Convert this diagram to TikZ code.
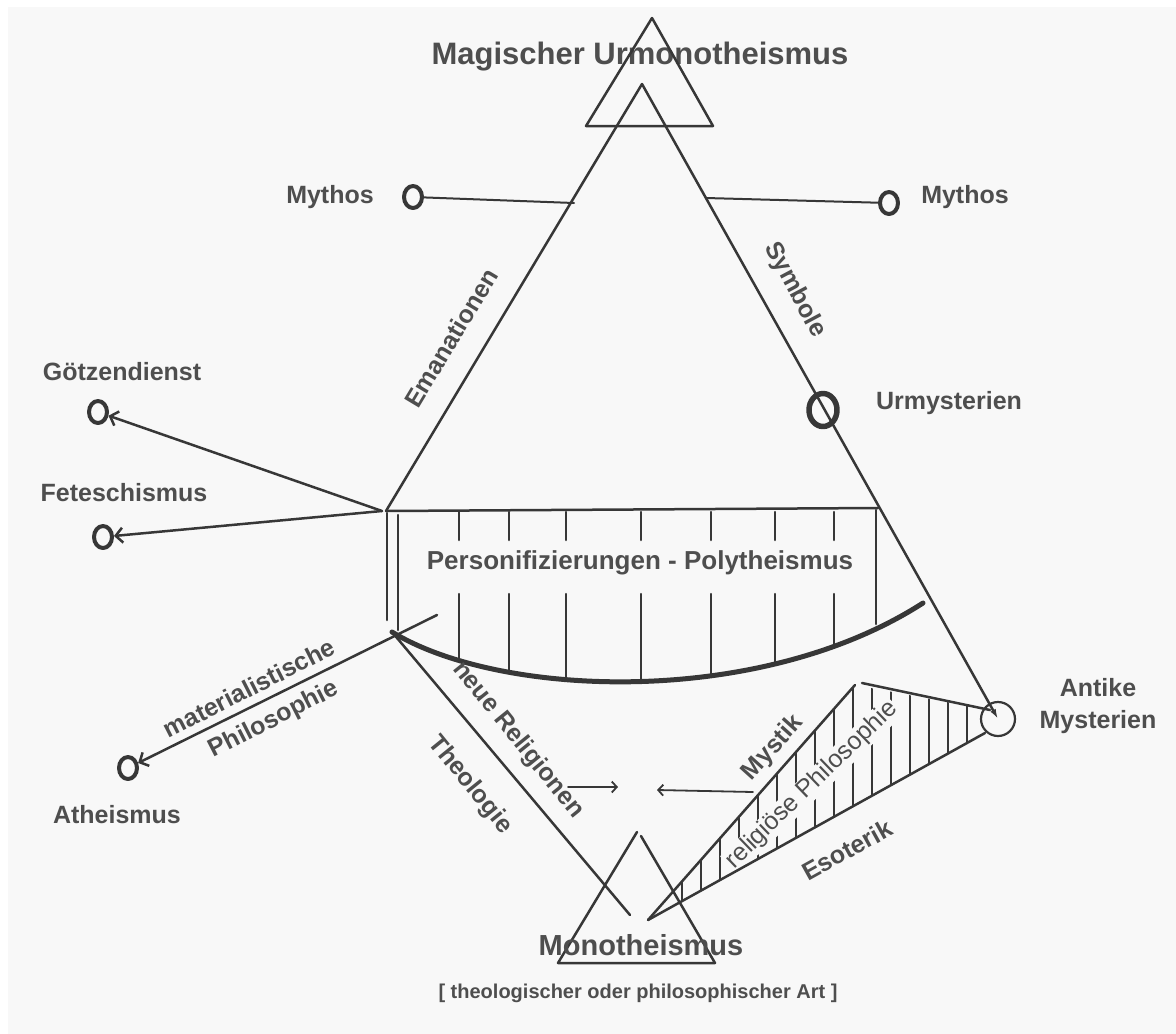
\documentclass[tikz,border=0pt]{standalone}
\usepackage{fontspec}
\setmainfont{Liberation Sans}
\usetikzlibrary{
    arrows.meta,
    shapes.geometric,
    positioning
}
\definecolor{paper}{RGB}{248,248,248}
\definecolor{ink}{RGB}{55,55,55}
\definecolor{script}{RGB}{78,78,78}

\tikzset{
    lbl/.style={font=\fontsize{25}{29}\selectfont\bfseries, text=script, inner sep=1pt},
    ring/.style={ellipse, draw=ink, line width=4pt, minimum width=18pt, minimum height=22pt, inner sep=0pt},
    stroke/.style={draw=ink, line width=2.5pt},
    barb/.style={-{Straight Barb[length=7pt,width=15pt]}}
}

\begin{document}
\begin{tikzpicture}[x=1pt, y=-1pt, line cap=round, line join=round]
    % Background
    \fill[white] (0,0) rectangle (1176,1034);
    \fill[paper] (8,7) rectangle (1176,1034);
    \useasboundingbox (0,0) rectangle (1176,1034);

    % Key points
    \coordinate (apex) at (642,84);
    \coordinate (fork) at (382,511);
    \coordinate (boxTL) at (386,511);
    \coordinate (boxTR) at (878,508);
    \coordinate (boxBL) at (392,632);
    \coordinate (curveR) at (923,603);

    % === Top: Urmonotheismus ===
    \node[font=\fontsize{31}{36}\selectfont\bfseries, text=script] (urmono) at (640,57) {Magischer Urmonotheismus};
    \draw[stroke] (652,18) -- (713,126) -- (586,126) -- cycle;

    % Big triangle
    \node[circle, draw=ink, line width=2.2pt, minimum size=34pt, inner sep=0pt] (antik) at (998,719) {};
    \draw[stroke] (apex) -- (boxTL);
    \draw[stroke, -{Latex[length=10pt,width=6pt]}] (apex) -- (antik.center);
    \node[lbl, align=center, font=\fontsize{25}{32}\selectfont\bfseries] at (1098,706) {Antike\\Mysterien};

    % Mythos
    \node[ring] (mythL) at (413,197) {};
    \node[ring] (mythR) at (889,203) {};
    \node[lbl] at (330,197) {Mythos};
    \node[lbl] at (965,197) {Mythos};
    \coordinate (mythLend) at (574,203);
    \coordinate (mythRend) at (706,198);
    \draw[stroke, line width=2pt] (mythL) -- (mythLend);
    \draw[stroke, line width=2pt] (mythRend) -- (mythR);

    % Emanationen / Symbole
    \node[lbl, rotate=59] at (451,338) {Emanationen};
    \node[lbl, rotate=-62] at (795,290) {Symbole};

    % Urmysterien
    \node[ring, line width=5.5pt, minimum width=28pt, minimum height=33pt] (urmyst) at (823,410) {};
    \node[lbl] at (949,403) {Urmysterien};

    % Goetzendienst / Feteschismus
    \node[ring] (goetz) at (98,412) {};
    \node[lbl] at (122,372) {Götzendienst};
    \node[ring] (fetisch) at (103,537) {};
    \node[lbl] at (124,493) {Feteschismus};
    \draw[stroke, barb] (fork) -- (goetz);
    \draw[stroke, barb] (fork) -- (fetisch);

    % === Polytheism box ===
    \draw[stroke] (boxTL) -- (boxTR);
    \draw[stroke] (387,513) -- (387,620);
    \draw[stroke] (398,515) -- (398,630);
    \draw[stroke] (876,510) -- (876,624);
    \foreach \x in {459,509,566,641,711,775,834}
        \draw[stroke] (\x,512) -- (\x,540);
    \begin{scope}
        \clip (boxBL) .. controls (500,698) and (760,708) .. (curveR) -- (923,590) -- (390,590) -- cycle;
        \foreach \x in {459,509,566,641,711,775,834}
            \draw[stroke] (\x,594) -- (\x,720);
    \end{scope}
    \draw[ink, line width=5pt] (boxBL) .. controls (500,698) and (760,708) .. (curveR);
    \node[font=\fontsize{26}{30}\selectfont\bfseries, text=script] at (640,563) {Personifizierungen - Polytheismus};

    % Atheismus
    \node[ring] (athe) at (128,768) {};
    \node[lbl] at (117,815) {Atheismus};
    \coordinate (matStart) at (437,615);
    \draw[stroke, barb] (matStart) -- (athe);
    \node[lbl, rotate=27] at (249,688) {materialistische};
    \node[lbl, rotate=27] at (274,720) {Philosophie};

    % Theologie
    \coordinate (theoEnd) at (630,915);
    \draw[stroke] (boxBL) -- (theoEnd);
    \node[lbl, rotate=-51] at (518,740) {neue Religionen};
    \node[lbl, rotate=-51] at (470,785) {Theologie};

    % === Monotheismus ===
    \draw[stroke] (637,832) -- (558,963) -- (715,963) -- (641,836);
    \node[font=\fontsize{29}{34}\selectfont\bfseries, text=script] (mono) at (641,945) {Monotheismus};
    \node[font=\fontsize{20}{24}\selectfont\bfseries, text=script] at (638,993) {[ theologischer oder philosophischer Art ]};

    % Small arrows
    \coordinate (inA) at (568,787);
    \coordinate (inAend) at (618,787);
    \coordinate (inB) at (753,792);
    \coordinate (inBend) at (657,790);
    \draw[stroke, line width=1.8pt, -{Straight Barb[length=5pt,width=11pt]}] (inA) -- (inAend);
    \draw[stroke, line width=1.8pt, -{Straight Barb[length=5pt,width=11pt]}] (inB) -- (inBend);

    % === Hatched wedge ===
    \coordinate (wB) at (648,920);
    \coordinate (wT) at (855,685);
    \coordinate (wT2) at (862,683);
    \coordinate (wR1) at (990,710);
    \coordinate (wR2) at (985,733);
    \begin{scope}
        \clip (wB) -- (wT) -- (wR1) -- (wR2) -- cycle;
        \foreach \x in {682,701,...,975}
            \draw[ink, line width=1.6pt] (\x,675) -- (\x,930);
    \end{scope}
    \node[lbl, font=\fontsize{25}{29}\selectfont, rotate=44, fill=paper] at (812,785) {religiöse Philosophie};
    \draw[stroke] (wB) -- (wT);
    \draw[stroke] (wT2) -- (wR1);
    \draw[stroke] (wB) -- (wR2);
    \node[lbl, rotate=48] at (773,748) {Mystik};
    \node[lbl, rotate=29] at (847,850) {Esoterik};
\end{tikzpicture}
\end{document}
